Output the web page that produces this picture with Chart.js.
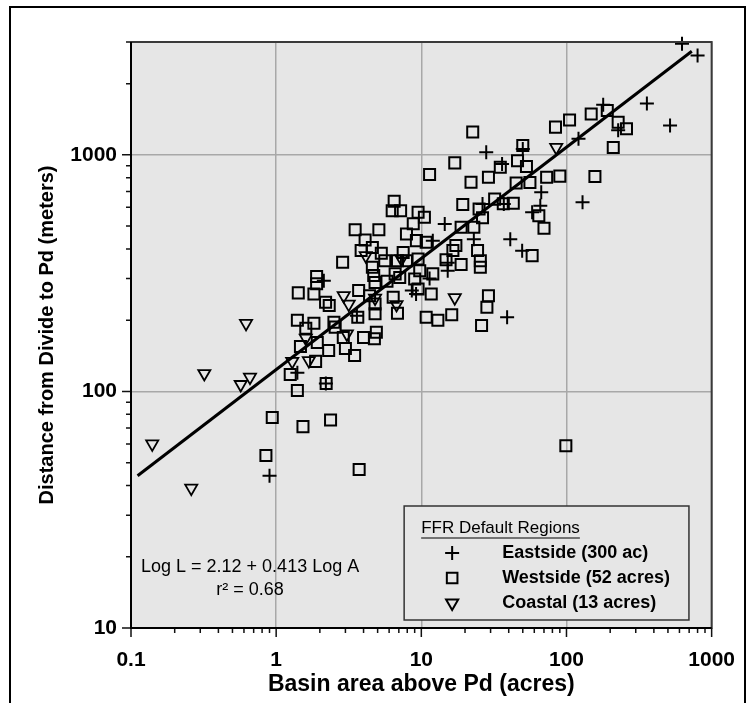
<!DOCTYPE html>
<html><head><meta charset="utf-8">
<script src="https://cdn.jsdelivr.net/npm/chart.js@4.4.0/dist/chart.umd.min.js"></script>
<style>
html,body{margin:0;padding:0;background:#fff;}
#wrap{position:relative;width:755px;height:703px;overflow:hidden;background:#fff;}
#c{position:absolute;left:0;top:0;}
#frame{position:absolute;left:9px;top:6px;width:737px;height:740px;border:2.5px solid #000;box-sizing:border-box;pointer-events:none;}
</style></head>
<body><div id="wrap"><canvas id="c" width="755" height="703"></canvas><div id="frame"></div></div>
<script>
// ---- data ----
const eastX = [625, 800, 358, 517, 227, 179, 121, 129, 50, 28, 36, 67, 66, 58, 37, 26.4, 23, 14.5, 15.2, 41, 49.5, 39, 9.2, 11.4, 15.2, 12, 8.6, 2.13, 3.6, 1.4, 2.2, 0.9];
const eastY = [2950, 2630, 1650, 1330, 1270, 1630, 1170, 630, 1060, 1025, 915, 695, 610, 572, 620, 620, 440, 510, 350, 440, 393, 206, 258, 300, 324, 434, 267, 294, 209, 120, 108, 44];

const westX = [210, 259, 227, 191, 148, 105, 84, 157, 90, 73,
  56, 45, 64.5, 70, 53, 46, 50, 35, 29, 22,
  22.6, 17, 11.4, 32, 36.7, 43, 19.3, 25, 26.4, 23,
  18.8, 17.3, 16.5, 14.8, 18.8, 24.4, 25.5, 25.5, 58, 29,
  28.3, 26, 16.2, 13, 10.8, 11.7, 9.5, 12, 9.0, 7.9,
  8.8, 10.5, 9.5, 10.8, 9.25, 9.5, 7.5, 7.9, 9.75, 99,
  6.5, 6.3, 7.2, 3.5, 5.1, 4.1, 4.6, 3.85, 5.3, 5.6,
  6.85, 2.87, 4.6, 6.6, 7.1, 4.7, 4.8, 5.8, 1.9, 1.9,
  1.42, 1.82, 2.19, 2.32, 3.7, 4.4, 4.8, 6.4, 6.85, 1.4,
  1.82, 2.5, 4.8, 3.65, 2.55, 1.6, 2.9, 4.0, 4.75, 4.9,
  1.92, 1.47, 2.3, 3.0, 3.47, 1.87, 1.25, 1.4, 0.94, 1.53,
  2.37, 0.85, 3.73, 2.21];
const westY = [1075, 1290, 1375, 1540, 1490, 1405, 1310, 810, 813, 805,
  765, 760, 553, 490, 893, 945, 1095, 887, 804, 766,
  1250, 925, 826, 650, 622, 624, 617, 591, 542, 494,
  494, 414, 394, 360, 344, 394, 357, 335, 375, 254,
  227, 190, 211, 200, 206, 258, 271, 314, 299, 463,
  511, 545, 572, 427, 434, 363, 387, 357, 324, 59,
  637, 581, 581, 482, 482, 437, 406, 394, 384, 357,
  357, 352, 335, 314, 303, 309, 289, 292, 306, 285,
  261, 258, 238, 231, 267, 254, 234, 250, 214, 200,
  194, 196, 213, 206, 187, 185, 169, 169, 167, 178,
  161, 155, 149, 152, 142, 134, 118, 101, 77.6, 71,
  75.7, 53.6, 46.8, 108];

const coastX = [0.14, 0.26, 0.32, 0.57, 0.66, 0.62, 1.29, 1.68, 1.6, 2.92, 3.16, 3.07, 4.14, 4.8, 6.75, 7.3, 17, 85];
const coastY = [60, 39, 119, 107, 115, 194, 134, 135, 168, 254, 234, 175, 375, 248, 233, 363, 249, 1075];

// regression line end points as drawn
const fitX = [0.111, 730];
const fitY = [44, 2740];

// ticks
const xTickValues = [0.1, 1, 10, 100, 1000];
const xTickLabels = ['0.1', '1', '10', '100', '1000'];
const yTickValues = [10, 100, 1000];
const yTickLabels = ['10', '100', '1000'];

const seriesNames = ['Eastside (300 ac)', 'Westside (52 acres)', 'Coastal (13 acres)'];
const legendTitle = 'FFR Default Regions';
const eqLine1 = 'Log L = 2.12 + 0.413 Log A';
const eqLine2 = 'r\u00B2 = 0.68';
const xTitle = 'Basin area above Pd (acres)';
const yTitle = 'Distance from Divide to Pd (meters)';

// ---- helpers ----
const FONT = "'Liberation Sans', Arial, Helvetica, sans-serif";
Chart.defaults.font.family = FONT;
const pts = (xs, ys) => xs.map((x, i) => ({x: x, y: ys[i]}));
const isDecade = v => Math.abs(Math.log10(v) - Math.round(Math.log10(v))) < 1e-6;
const findLabel = (vals, labs, v) => {
  const i = vals.findIndex(t => Math.abs(t - v) / t < 1e-6);
  return i >= 0 ? labs[i] : null;
};
function minorTicks(lo, hi) {
  const out = [];
  for (let e = Math.floor(Math.log10(lo)); e <= Math.ceil(Math.log10(hi)); e++) {
    for (let m = 1; m <= 9; m++) {
      const v = m * Math.pow(10, e);
      if (v >= lo * 0.999999 && v <= hi * 1.000001) out.push(v);
    }
  }
  return out;
}
const GRAY = '#e6e6e6';

function drawMarker(ctx, style, x, y, r) {
  ctx.beginPath();
  if (style === 'cross') {
    ctx.moveTo(x - r, y); ctx.lineTo(x + r, y);
    ctx.moveTo(x, y - r); ctx.lineTo(x, y + r);
  } else if (style === 'rect') {
    const s = Math.SQRT1_2 * r;
    ctx.rect(x - s, y - s, 2 * s, 2 * s);
  } else {
    const h = r;
    ctx.moveTo(x, y + h);
    ctx.lineTo(x + Math.sin(2 * Math.PI / 3) * h, y - h / 2);
    ctx.lineTo(x - Math.sin(2 * Math.PI / 3) * h, y - h / 2);
    ctx.closePath();
  }
  ctx.stroke();
}

const decor = {
  id: 'decor',
  beforeDraw(chart) {
    const {ctx, chartArea: a} = chart;
    ctx.save();
    ctx.fillStyle = '#fff';
    ctx.fillRect(0, 0, chart.width, chart.height);
    ctx.fillStyle = GRAY;
    ctx.fillRect(a.left, a.top, a.right - a.left, a.bottom - a.top);
    ctx.restore();
  },
  afterDraw(chart) {
    const {ctx, chartArea: a, scales} = chart;
    const xs = scales.x, ys = scales.y;
    ctx.save();
    // tick marks
    ctx.strokeStyle = '#111';
    ctx.lineWidth = 1.5;
    ctx.beginPath();
    minorTicks(0.1, 1000).forEach(v => {
      const px = xs.getPixelForValue(v);
      const len = isDecade(v) ? 9 : 5;
      ctx.moveTo(px, a.bottom); ctx.lineTo(px, a.bottom + len);
    });
    minorTicks(10, 3000).forEach(v => {
      const py = ys.getPixelForValue(v);
      const len = isDecade(v) ? 9 : 5;
      ctx.moveTo(a.left, py); ctx.lineTo(a.left - len, py);
    });
    ctx.stroke();
    // plot border
    ctx.lineWidth = 2;
    ctx.strokeStyle = '#3a3a3a';
    ctx.strokeRect(a.left, a.top, a.right - a.left, a.bottom - a.top);
    ctx.strokeStyle = '#000';
    ctx.beginPath();
    ctx.moveTo(a.left, a.top); ctx.lineTo(a.left, a.bottom); ctx.lineTo(a.right, a.bottom);
    ctx.stroke();

    // legend box
    const L = a.right - 307.5, R = a.right - 22.7, T = a.bottom - 122, B = a.bottom - 8;
    ctx.fillStyle = GRAY;
    ctx.fillRect(L, T, R - L, B - T);
    ctx.lineWidth = 1.5;
    ctx.strokeStyle = '#333';
    ctx.strokeRect(L, T, R - L, B - T);
    ctx.fillStyle = '#000';
    ctx.font = '17px ' + FONT;
    ctx.textBaseline = 'middle';
    ctx.textAlign = 'left';
    const tx = L + 17, ty = T + 22;
    ctx.fillText(legendTitle, tx, ty);
    const tw = ctx.measureText(legendTitle).width;
    ctx.lineWidth = 1.2;
    ctx.strokeStyle = '#000';
    ctx.beginPath(); ctx.moveTo(tx, ty + 10); ctx.lineTo(tx + tw, ty + 10); ctx.stroke();
    const styles = ['cross', 'rect', 'triangle'];
    const radii = [7, 7.5, 7];
    ctx.font = 'bold 18px ' + FONT;
    styles.forEach((s, i) => {
      const yy = T + 47 + i * 25;
      ctx.lineWidth = 2;
      ctx.strokeStyle = '#000';
      drawMarker(ctx, s, L + 48, yy, radii[i]);
      ctx.fillText(seriesNames[i], L + 98, yy);
    });

    // regression equation
    ctx.font = '18px ' + FONT;
    ctx.textAlign = 'left';
    ctx.fillText(eqLine1, a.left + 10, a.bottom - 61);
    ctx.textAlign = 'center';
    ctx.fillText(eqLine2, a.left + 119, a.bottom - 38);
    ctx.restore();
  }
};

new Chart(document.getElementById('c'), {
  type: 'scatter',
  data: {
    datasets: [
      {label: 'fit', type: 'line', data: pts(fitX, fitY), borderColor: '#000', borderWidth: 3,
       pointRadius: 0, fill: false, showLine: true, order: 0, clip: false},
      {label: seriesNames[0], data: pts(eastX, eastY), pointStyle: 'cross', pointRadius: 7,
       borderColor: '#000', backgroundColor: 'rgba(0,0,0,0)', pointBorderWidth: 2, order: 1, clip: false},
      {label: seriesNames[1], data: pts(westX, westY), pointStyle: 'rect', pointRadius: 7.8,
       borderColor: '#000', backgroundColor: 'rgba(0,0,0,0)', pointBorderWidth: 2, order: 2, clip: false},
      {label: seriesNames[2], data: pts(coastX, coastY), pointStyle: 'triangle', rotation: 180, pointRadius: 7,
       borderColor: '#000', backgroundColor: 'rgba(0,0,0,0)', pointBorderWidth: 1.8, order: 3, clip: false}
    ]
  },
  options: {
    responsive: false,
    animation: false,
    devicePixelRatio: 1,
    events: [],
    layout: {padding: {left: 35, top: 42, right: 39, bottom: 5}},
    plugins: {legend: {display: false}, tooltip: {enabled: false}},
    scales: {
      x: {
        type: 'logarithmic', position: 'bottom', min: 0.1, max: 1000,
        afterFit: s => { s.height = 70; },
        border: {display: false},
        grid: {drawTicks: false, color: '#a8a8a8', lineWidth: 1.5},
        ticks: {autoSkip: false, maxRotation: 0, padding: 20, color: '#000',
          font: {size: 21, weight: 'bold'},
          callback: v => findLabel(xTickValues, xTickLabels, v)},
        title: {display: true, text: xTitle, color: '#000', padding: 0,
          font: {size: 23, weight: 'bold'}}
      },
      y: {
        type: 'logarithmic', position: 'left', min: 10, max: 3000,
        afterFit: s => { s.width = 96; },
        border: {display: false},
        grid: {drawTicks: false, color: '#a8a8a8', lineWidth: 1.5},
        ticks: {autoSkip: false, padding: 14, color: '#000',
          font: {size: 21, weight: 'bold'},
          callback: v => findLabel(yTickValues, yTickLabels, v)},
        title: {display: true, text: yTitle, color: '#000', padding: 0,
          font: {size: 20, weight: 'bold'}}
      }
    }
  },
  plugins: [decor]
});
</script>
</body></html>
